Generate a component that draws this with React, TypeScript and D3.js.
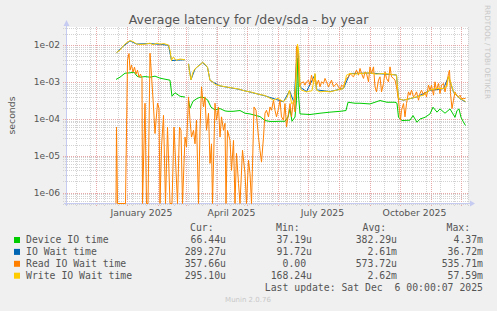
import * as d3 from 'd3';

const W = 497;
const H = 311;
const MARGIN = { left: 67, right: 29, top: 27, bottom: 107 };
const T0 = Date.UTC(2024, 10, 3); // day 0 of the series
const DAY = 86400000;

// [days since 2024-11-03, seconds]; NaN = no data
const deviceIoTime: [number, number][] = [
    [48.5, 1.17e-3], [52.5, 1.35e-3], [57.5, 1.73e-3], [62.5, 1.77e-3], [66.5, 1.85e-3], [69.5, 1.44e-3],
    [72.5, 1.35e-3], [77.5, 1.4e-3], [82.5, 1.35e-3], [87.5, 1.44e-3], [92.5, 1.27e-3], [97.5, 1.19e-3],
    [102.5, 1.12e-3], [104.5, 4.1e-4], [107.5, 5.1e-4], [112.5, 4.1e-4], [117.5, 3.9e-4], [119, NaN],
    [121, 3.2e-4], [122.5, 1.94e-4], [125.5, 3.0e-4], [129.5, 3.56e-4], [132.5, 3.85e-4], [135.5, 3.85e-4],
    [140, 3.3e-4], [143.5, 2.07e-4], [147.5, 1.75e-4], [152.5, 1.9e-4], [157.5, 1.64e-4], [160.5, 1.6e-4],
    [165.5, 1.6e-4], [172.5, 1.68e-4], [177.5, 1.42e-4], [182.5, 1.36e-4], [187.5, 1.25e-4], [192.5, 1.15e-4],
    [197.5, 9.0e-5], [202.5, 8.5e-5], [207.5, 8.5e-5], [212.5, 8.6e-5], [217.5, 8.6e-5], [220.5, 1.12e-4],
    [222.5, 1.87e-4], [224.5, 8.6e-5], [227.5, 1.12e-4], [229, 3.2e-4], [230, 4.4e-3], [231, 4.4e-4],
    [232.5, 1.36e-4], [242.5, 1.31e-4], [252.5, 1.42e-4], [262.5, 1.52e-4], [272.5, 1.6e-4], [278.5, 1.68e-4],
    [280.5, 2.82e-4], [287.5, 2.65e-4], [292.5, 2.65e-4], [302.5, 2.54e-4], [307.5, 2.82e-4], [312.5, 3.14e-4],
    [319.5, 2.82e-4], [327.5, 2.82e-4], [329.5, 2.65e-4], [331, 1.1e-4], [334.5, 9.0e-5], [342.5, 9.2e-5],
    [345.5, 1.23e-4], [349.5, 8.1e-5], [352.5, 9.9e-5], [357.5, 1.1e-4], [362.5, 1.36e-4], [365.5, 2.07e-4],
    [369.5, 1.52e-4], [372.5, 1.86e-4], [377.5, 1.42e-4], [382.5, 1.86e-4], [387.5, 1.1e-4], [389.5, 1.68e-4],
    [391.5, 1.86e-4], [393.5, 1.1e-4], [395.5, 8.6e-5], [398, 6.6e-5],
];

const ioWaitTime: [number, number][] = [
    [49, 6.2e-3], [55.5, 9.2e-3], [62.5, 1.3e-2], [69, 1.07e-2], [82.5, 1.1e-2], [92.5, 1.05e-2],
    [101, 9.9e-3], [104, 3.8e-3], [109, 3.9e-3], [117.5, 4.0e-3], [119, NaN], [121, 3.1e-3],
    [123.5, 1.15e-3], [127.5, 2.25e-3], [135, 3.4e-3], [140, 2.5e-3], [142.5, 1.1e-3], [152.5, 7.8e-4],
    [170.5, 6.4e-4], [184, 5.2e-4], [197.5, 4.2e-4], [216, 2.9e-4], [222, 5.8e-4], [226.5, 2.8e-4],
    [230, 1.0e-2], [232.5, 7.3e-4], [239, 5.5e-4], [247.5, 1.6e-3], [249, 6.1e-4], [262.5, 5.5e-4],
    [276, 6.7e-4], [282.5, 1.7e-3], [302.5, 1.75e-3], [329, 1.55e-3], [331, 3.5e-4], [336, 3.2e-4],
    [349, 3.9e-4], [362.5, 5.9e-4], [376, 6.6e-4], [381, 1.4e-3], [386, 5.3e-4], [392.5, 3.5e-4],
    [398, 2.89e-4],
];

const readIoWaitTime: [number, number][] = [
    [48.5, 0], [49, 6.0e-5], [50, 0], [58, 0], [60, 3.9e-3], [61.5, 5.9e-3], [62.5, 2.09e-3], [64, 2.86e-3],
    [65.5, 1.85e-3], [67, 2.52e-3], [68.5, 1.63e-3], [70, 2.09e-3], [71.5, 1.35e-3], [73, 1.63e-3],
    [74.5, 1.27e-3], [75, 0], [77.5, 2.65e-4], [79, 0], [80.5, 0], [82.5, 6.06e-3], [84, 1.53e-3],
    [86, 2.1e-4], [87.5, 4.0e-5], [90, 2.65e-4], [91.5, 1.94e-4], [92.5, 0], [94, 1.73e-5], [96, 1.25e-4],
    [98, 0], [100, 6.0e-5], [102.5, 0], [104.5, 0], [106.5, 6.0e-5], [108.5, 4.0e-6], [110, 0],
    [112, 6.0e-5], [113.5, 4.9e-5], [115, 0], [117.5, 3.2e-5], [119, 1.73e-5], [121, 3.94e-4],
    [122.5, 9.2e-5], [124, 3.2e-5], [126, 4.9e-5], [127.5, 2.1e-5], [129, 9.2e-5], [131, 0],
    [132.5, 4.9e-5], [134, 7.4e-4], [136, 2.1e-4], [137.5, 3.94e-4], [139, 4.9e-5], [141, 1.42e-4],
    [142.5, 6.2e-6], [144, 2.1e-5], [145, 0], [147.5, 2.65e-4], [149, 9.2e-5], [151, 2.1e-4],
    [152.5, 3.2e-5], [154, 1.13e-4], [156, 4.9e-5], [157.5, 7.6e-5], [158.5, 0], [160, 4.9e-5],
    [162.5, 2.6e-5], [164, 4.0e-6], [166, 2.6e-5], [167.5, 0], [169, 1.16e-5], [171, 1.78e-6],
    [172.5, 0], [175, 1.4e-5], [177.5, 3.3e-6], [179, 0], [181, 7.5e-6], [182.5, 3.3e-6], [184, 0],
    [186.5, 2.1e-4], [188.5, 1.71e-4], [191, 3.2e-5], [192.5, 1.4e-5], [194, 6.7e-6], [196, 3.2e-5],
    [197.5, 1.42e-4], [199, 1.71e-4], [201, 1.13e-4], [202.5, 2.1e-4], [204, 1.71e-4], [206, 3.2e-4],
    [207.5, 1.71e-4], [209, 1.13e-4], [211, 1.9e-4], [212.5, 3.2e-4], [214, 1.13e-4], [216, 9.2e-5],
    [217.5, 2.6e-4], [219, 6.0e-5], [221, 1.42e-4], [222.5, 2.6e-4], [224, 1.13e-4], [226, 3.2e-4],
    [227.5, 1.54e-4], [229, 9.0e-3], [230, 1.0e-2], [232, 7.4e-4], [233, 9.1e-4], [236, 1.01e-3],
    [237.5, 8.2e-4], [239, 1.01e-3], [241, 1.12e-3], [242.5, 8.2e-4], [244, 1.53e-3], [246, 9.1e-4],
    [247.5, 1.38e-3], [249, 8.2e-4], [251, 1.12e-3], [252.5, 7.4e-4], [254, 1.01e-3], [256, 9.1e-4],
    [257.5, 1.25e-3], [259, 1.01e-3], [261, 7.4e-4], [262.5, 9.1e-4], [264, 1.12e-3], [266, 7.4e-4],
    [267.5, 8.2e-4], [269, 9.1e-4], [271, 7.4e-4], [272.5, 6.0e-4], [274, 8.2e-4], [276, 7.4e-4],
    [277.5, 1.01e-3], [279, 1.25e-3], [281, 1.38e-3], [282.5, 1.7e-3], [284, 1.53e-3], [286, 1.38e-3],
    [287.5, 1.7e-3], [289, 2.09e-3], [291, 1.53e-3], [292.5, 2.33e-3], [294, 1.7e-3], [296, 1.25e-3],
    [297.5, 1.88e-3], [299, 1.7e-3], [301, 1.01e-3], [302.5, 2.57e-3], [304, 1.7e-3], [306, 2.57e-3],
    [307.5, 7.4e-4], [309, 5.4e-4], [311, 1.12e-3], [312.5, 1.38e-3], [314, 5.4e-4], [316, 9.1e-4],
    [317.5, 1.88e-3], [319, 1.25e-3], [321, 1.01e-3], [322.5, 2.57e-3], [324, 1.38e-3], [326, 1.25e-3],
    [327.5, 1.12e-3], [329, 7.4e-4], [331, 3.2e-4], [332, 1.71e-4], [333, 9.2e-5], [334, 1.71e-4],
    [336, 2.6e-4], [337.5, 1.13e-4], [339, 2.6e-4], [341, 5.4e-4], [342.5, 4.38e-4], [344, 6.0e-4],
    [346, 3.94e-4], [347.5, 4.38e-4], [349, 5.4e-4], [351, 3.2e-4], [352.5, 4.87e-4], [354, 6.0e-4],
    [356, 4.38e-4], [357.5, 5.38e-4], [359, 3.94e-4], [361, 8.2e-4], [362.5, 6.0e-4], [364, 8.2e-4],
    [366, 4.38e-4], [367.5, 1.01e-3], [369, 6.0e-4], [371, 9.1e-4], [372.5, 4.87e-4], [374, 8.2e-4],
    [376, 9.1e-4], [377.5, 5.38e-4], [379, 8.2e-4], [381, 1.7e-3], [382, 2.09e-3], [383, 4.87e-4],
    [384.5, 1.9e-4], [386, 3.2e-4], [387.5, 5.38e-4], [389, 4.38e-4], [391, 3.94e-4], [392.5, 4.38e-4],
    [394, 3.56e-4], [396, 3.56e-4], [398, 3.58e-4],
];

const writeIoWaitTime: [number, number][] = [
    [49, 6.3e-3], [52.5, 7.3e-3], [55.5, 9.4e-3], [58.5, 1.13e-2], [62.5, 1.33e-2], [65.5, 1.25e-2],
    [69, 1.08e-2], [72.5, 1.04e-2], [77.5, 1.06e-2], [82.5, 1.13e-2], [85.5, 1.03e-2], [89.5, 1.13e-2],
    [92.5, 1.06e-2], [96.5, 1.1e-2], [101, 1.0e-2], [102.5, 7.3e-3], [104, 3.8e-3], [105.5, 4.7e-3],
    [109, 3.9e-3], [112.5, 4.2e-3], [117.5, 4.0e-3], [119, NaN], [121, 3.1e-3], [122, 1.85e-3],
    [123.5, 1.14e-3], [125.5, 1.85e-3], [127.5, 2.27e-3], [130.5, 2.7e-3], [132.5, 2.86e-3], [135, 3.45e-3],
    [137.5, 3.05e-3], [140, 2.52e-3], [142.5, 1.1e-3], [144.5, 1.05e-3], [147.5, 8.5e-4], [152.5, 7.9e-4],
    [160.5, 7.2e-4], [170.5, 6.5e-4], [177.5, 5.7e-4], [184, 5.3e-4], [190.5, 4.7e-4], [197.5, 4.3e-4],
    [206, 3.2e-4], [210.5, 3.6e-4], [216, 2.9e-4], [219.5, 3.8e-4], [222, 6.0e-4], [224, 2.6e-4],
    [226.5, 2.8e-4], [228.5, 1.12e-3], [230, 1.06e-2], [231.5, 5.35e-3], [232.5, 7.4e-4], [234, 6.0e-4],
    [239, 5.4e-4], [244.5, 5.8e-4], [247.5, 1.7e-3], [249, 6.0e-4], [252.5, 5.4e-4], [257.5, 5.6e-4],
    [262.5, 5.4e-4], [269, 6.0e-4], [273.5, 6.4e-4], [276, 6.65e-4], [277.5, 1.0e-3], [279, 1.53e-3],
    [282.5, 1.7e-3], [287.5, 1.63e-3], [292.5, 1.7e-3], [297.5, 1.74e-3], [302.5, 1.77e-3], [308.5, 1.63e-3],
    [316, 1.7e-3], [322.5, 1.63e-3], [329, 1.53e-3], [331, 3.56e-4], [336, 3.2e-4], [342.5, 3.56e-4],
    [349, 3.94e-4], [356, 4.38e-4], [359.5, 5.3e-4], [362.5, 6.0e-4], [369, 6.65e-4], [376, 6.65e-4],
    [379.5, 7.7e-4], [381, 1.44e-3], [382.5, 1.12e-3], [386, 5.4e-4], [389, 4.38e-4], [392.5, 3.56e-4],
    [396, 3.2e-4], [398, 2.95e-4],
];

const SERIES = [deviceIoTime, ioWaitTime, readIoWaitTime, writeIoWaitTime];
const SERIES_NAMES = ['Device IO time', 'IO Wait time', 'Read IO Wait time', 'Write IO Wait time'];
const SERIES_COLORS = ['#00CC00', '#0066B3', '#FF8000', '#FFCC00'];
const CUR = ['66.44u', '289.27u', '357.66u', '295.10u'];
const MIN = ['37.19u', '91.72u', '0.00\u00a0', '168.24u'];
const AVG = ['382.29u', '2.61m', '573.72u', '2.62m'];
const MAX = ['4.37m', '36.72m', '535.71m', '57.59m'];

const Y_TICKS = [1e-2, 1e-3, 1e-4, 1e-5, 1e-6];
const Y_TICK_LABELS = ['1e-02', '1e-03', '1e-04', '1e-05', '1e-06'];
const X_LABEL_DATES = [Date.UTC(2025, 0, 16), Date.UTC(2025, 3, 16), Date.UTC(2025, 6, 16), Date.UTC(2025, 9, 16)];
const X_LABELS = ['January 2025', 'April 2025', 'July 2025', 'October 2025'];

const FONT = 'DejaVu Sans, sans-serif';
const MONO = 'DejaVu Sans Mono, monospace';
const TEXT = '#555';

export default function App() {
    const x0 = MARGIN.left;
    const x1 = W - MARGIN.right;
    const y0 = MARGIN.top;
    const y1 = H - MARGIN.bottom;

    const xScale = d3
        .scaleUtc()
        .domain([new Date(T0 - DAY / 2), new Date(T0 + 400.5 * DAY)])
        .range([x0, x1]);
    const yScale = d3.scaleLog().domain([4.9e-7, 0.031]).range([y1, y0]).clamp(true);

    const line = d3
        .line<[number, number]>()
        .defined((d) => !isNaN(d[1]))
        .x((d) => xScale(new Date(T0 + d[0] * DAY)))
        .y((d) => (d[1] <= 0 ? y1 - 0.5 : yScale(d[1])));

    // grid: minor at 2..9 per decade, major at decades
    const hGrid: { y: number; major: boolean }[] = [];
    for (let e = -7; e <= -1; e++) {
        for (let k = 1; k <= 9; k++) {
            const v = k * Math.pow(10, e);
            if (v < 4.9e-7 || v > 0.031) continue;
            hGrid.push({ y: Math.round(yScale(v)) + 0.5, major: k === 1 });
        }
    }
    const end = new Date(T0 + 400.5 * DAY);
    const monthStarts = d3.utcMonth.range(new Date(T0), end);
    const biweekly = d3.utcMonday.range(new Date(Date.UTC(2024, 10, 11)), end).filter((_, i) => i % 2 === 0);
    const px = (d: Date) => Math.round(xScale(d)) + 0.5;

    const axisColor = '#c6cbf2';
    const minorColor = '#d2d2d2';
    const majorColor = '#e8a8a8';

    return (
        <svg width={W} height={H} style={{ position: 'absolute', left: 0, top: 0, background: '#F0F0F0' }}>
            <rect x={0} y={0} width={W} height={H} fill="#F0F0F0" />
            <rect x={x0} y={y0} width={x1 - x0} height={y1 - y0} fill="#ffffff" />

            {hGrid
                .filter((g) => !g.major)
                .map((g, i) => (
                    <line key={'hm' + i} x1={x0 - 4} x2={x1} y1={g.y} y2={g.y} stroke={minorColor} strokeDasharray="1,1" />
                ))}
            {biweekly.map((d, i) => (
                <line key={'vm' + i} x1={px(d)} x2={px(d)} y1={y0} y2={y1 + 2} stroke={minorColor} strokeDasharray="1,1" />
            ))}
            {hGrid
                .filter((g) => g.major)
                .map((g, i) => (
                    <line key={'hM' + i} x1={x0 - 4} x2={x1} y1={g.y} y2={g.y} stroke={majorColor} strokeDasharray="1,1" />
                ))}
            {monthStarts.map((d, i) => (
                <line key={'vM' + i} x1={px(d)} x2={px(d)} y1={y0} y2={y1 + 2} stroke={majorColor} strokeDasharray="1,1" />
            ))}

            {/* axes */}
            <line x1={x0 - 0.5} x2={x0 - 0.5} y1={y1 + 2} y2={y0 - 4} stroke={axisColor} />
            <path d={`M${x0 - 3.5},${y0 - 1} L${x0 + 2.5},${y0 - 1} L${x0 - 0.5},${y0 - 7} Z`} fill={axisColor} />
            <line x1={x0 - 3} x2={x1 + 3} y1={y1 - 0.5} y2={y1 - 0.5} stroke={axisColor} />
            <path d={`M${x1 + 2},${y1 - 3.5} L${x1 + 2},${y1 + 2.5} L${x1 + 7},${y1 - 0.5} Z`} fill={axisColor} />

            {SERIES.map((s, i) => (
                <path key={'s' + i} d={line(s) ?? ''} fill="none" stroke={SERIES_COLORS[i]} strokeWidth={1} />
            ))}

            {/* title */}
            <text x={248.5} y={23.5} textAnchor="middle" fontFamily={FONT} fontSize={12.5} fill={TEXT}>
                Average latency for /dev/sda - by year
            </text>

            {Y_TICKS.map((v, i) => (
                <text key={'yt' + i} x={60} y={yScale(v)} dy="0.35em" textAnchor="end" fontFamily={FONT} fontSize={9.1} fill={TEXT}>
                    {Y_TICK_LABELS[i]}
                </text>
            ))}
            <text transform={`translate(11.5,${(y0 + y1) / 2}) rotate(-90)`} dy="0.35em" textAnchor="middle" fontFamily={FONT} fontSize={9.3} fill={TEXT}>
                seconds
            </text>

            {X_LABEL_DATES.map((t, i) => (
                <text key={'xt' + i} x={xScale(new Date(t))} y={213} dy="0.35em" textAnchor="middle" fontFamily={FONT} fontSize={9.3} fill={TEXT}>
                    {X_LABELS[i]}
                </text>
            ))}

            {/* legend */}
            <g fontFamily={MONO} fontSize={9.8} fill={TEXT} style={{ whiteSpace: 'pre' }}>
                <text x={190} y={228} dy="0.35em">Cur:</text>
                <text x={276} y={228} dy="0.35em">Min:</text>
                <text x={362.5} y={228} dy="0.35em">Avg:</text>
                <text x={446.5} y={228} dy="0.35em">Max:</text>
                {SERIES_NAMES.map((n, i) => {
                    const cy = 240 + i * 11.9;
                    return (
                        <g key={'lg' + i}>
                            <rect x={14} y={cy - 3} width={6} height={6} fill={SERIES_COLORS[i]} />
                            <text x={26} y={cy} dy="0.35em">{n}</text>
                            <text x={226} y={cy} dy="0.35em" textAnchor="end">{CUR[i]}</text>
                            <text x={312} y={cy} dy="0.35em" textAnchor="end">{MIN[i]}</text>
                            <text x={397} y={cy} dy="0.35em" textAnchor="end">{AVG[i]}</text>
                            <text x={483} y={cy} dy="0.35em" textAnchor="end">{MAX[i]}</text>
                        </g>
                    );
                })}
                <text x={483} y={288} dy="0.35em" textAnchor="end" xmlSpace="preserve">
                    {'Last update: Sat Dec  6 00:00:07 2025'}
                </text>
            </g>

            <text x={248} y={300} dy="0.35em" textAnchor="middle" fontFamily={FONT} fontSize={7} fill="#c8c8c8">
                Munin 2.0.76
            </text>
            <text transform={`translate(488,5) rotate(90)`} dy="0.35em" fontFamily={FONT} fontSize={7.3} fill="#c8c8c8">
                RRDTOOL / TOBI OETIKER
            </text>
        </svg>
    );
}
